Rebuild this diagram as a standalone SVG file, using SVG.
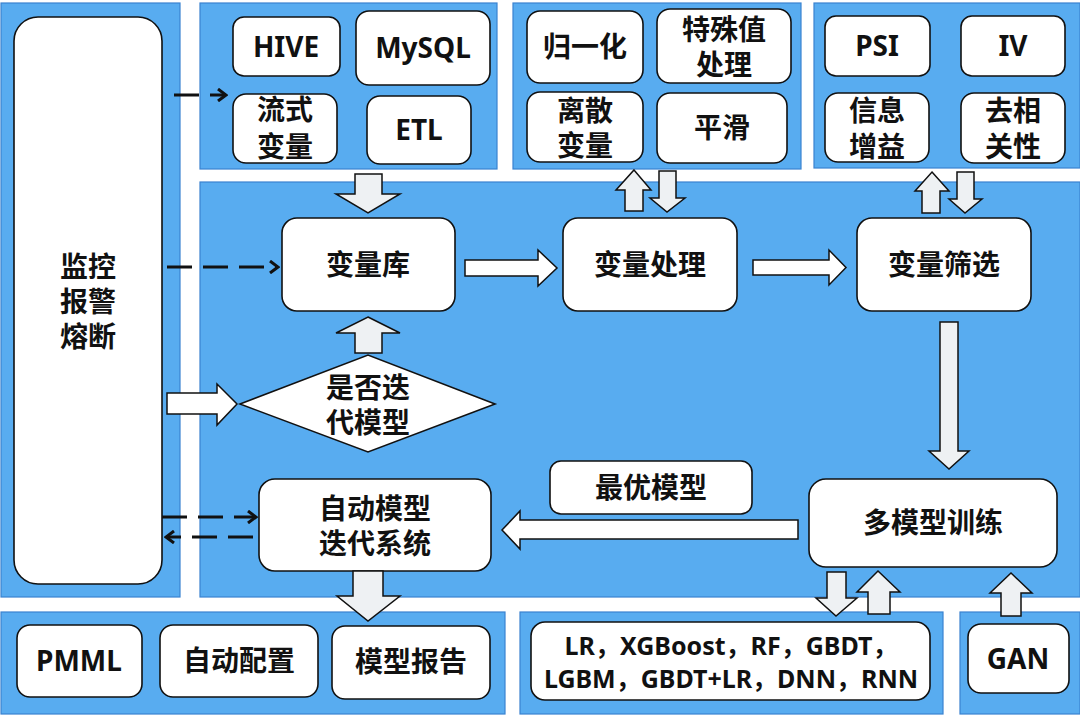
<svg xmlns="http://www.w3.org/2000/svg" width="1080" height="716" viewBox="0 0 1080 716">
<defs>
<style>
.panel{fill:#58acf0;stroke:#3a82d0;stroke-width:1.2}
.box{fill:#fff;stroke:#111;stroke-width:1.6}
.blk{fill:#eef1f3;stroke:#111;stroke-width:1.5;stroke-linejoin:miter}
.blkw{fill:#fff;stroke:#111;stroke-width:1.5}
.t{font-family:"Noto Sans","Noto Sans CJK SC",sans-serif;font-weight:bold;font-size:28px;fill:#111;text-anchor:middle}
.s{font-size:25px}
.dash{stroke:#111;stroke-width:3;fill:none;stroke-dasharray:25 11}
</style>
<marker id="chev" viewBox="0 0 12 14" refX="10" refY="7" markerWidth="12" markerHeight="14" markerUnits="userSpaceOnUse" orient="auto">
<path d="M2,1 L10,7 L2,13" fill="none" stroke="#111" stroke-width="3"/>
</marker>
</defs>
<rect width="1080" height="716" fill="#fff"/>
<g id="panels">
<rect class="panel" x="1" y="3" width="179" height="594"/>
<rect class="panel" x="200" y="3" width="297" height="166"/>
<rect class="panel" x="513" y="3" width="288" height="166"/>
<rect class="panel" x="814" y="3" width="266" height="165"/>
<rect class="panel" x="200" y="182" width="880" height="415"/>
<rect class="panel" x="1" y="612" width="504" height="102"/>
<rect class="panel" x="520" y="612" width="423" height="102"/>
<rect class="panel" x="960" y="612" width="120" height="102"/>
</g>
<g id="monitor"><rect class="box" x="14" y="17" width="148" height="567" rx="24"/>
<text class="t" x="88" y="277">监控</text><text class="t" x="88" y="312">报警</text><text class="t" x="88" y="347">熔断</text></g>
<g id="hive"><rect class="box" x="233" y="17" width="107" height="59" rx="11"/><text class="t" x="286" y="57">HIVE</text></g>
<g id="mysql"><rect class="box" x="356" y="11" width="134" height="74" rx="13"/><text class="t" x="423" y="58">MySQL</text></g>
<g id="stream"><rect class="box" x="233" y="94" width="104" height="69" rx="13"/><text class="t" x="285" y="120">流式</text><text class="t" x="285" y="157">变量</text></g>
<g id="etl"><rect class="box" x="367" y="96" width="104" height="68" rx="13"/><text class="t" x="419" y="140">ETL</text></g>
<g id="norm"><rect class="box" x="527" y="11" width="116" height="72" rx="13"/><text class="t" x="585" y="57">归一化</text></g>
<g id="special"><rect class="box" x="657" y="9" width="134" height="74" rx="13"/><text class="t" x="724" y="40">特殊值</text><text class="t" x="724" y="75">处理</text></g>
<g id="discrete"><rect class="box" x="527" y="92" width="116" height="70" rx="13"/><text class="t" x="585" y="121">离散</text><text class="t" x="585" y="156">变量</text></g>
<g id="smooth"><rect class="box" x="657" y="93" width="130" height="70" rx="13"/><text class="t" x="722" y="138">平滑</text></g>
<g id="psi"><rect class="box" x="825" y="16" width="105" height="60" rx="11"/><text class="t" x="877" y="56">PSI</text></g>
<g id="iv"><rect class="box" x="961" y="16" width="104" height="60" rx="11"/><text class="t" x="1013" y="56">IV</text></g>
<g id="infogain"><rect class="box" x="825" y="93" width="104" height="69" rx="13"/><text class="t" x="877" y="121">信息</text><text class="t" x="877" y="157">增益</text></g>
<g id="decorr"><rect class="box" x="961" y="93" width="104" height="70" rx="13"/><text class="t" x="1013" y="121">去相</text><text class="t" x="1013" y="157">关性</text></g>
<g id="varlib"><rect class="box" x="282" y="218" width="173" height="93" rx="15"/><text class="t" x="368" y="275">变量库</text></g>
<g id="varproc"><rect class="box" x="563" y="218" width="174" height="93" rx="15"/><text class="t" x="650" y="275">变量处理</text></g>
<g id="varsel"><rect class="box" x="857" y="218" width="174" height="93" rx="15"/><text class="t" x="944" y="275">变量筛选</text></g>
<g id="decision"><polygon points="240,404 368,355 495,404 368,452" fill="#fff" stroke="#111" stroke-width="1.6"/>
<text class="t" x="368" y="398">是否迭</text><text class="t" x="368" y="433">代模型</text></g>
<g id="autosys"><rect class="box" x="259" y="479" width="232" height="92" rx="16"/><text class="t" x="375" y="519">自动模型</text><text class="t" x="375" y="554">迭代系统</text></g>
<g id="best"><rect class="box" x="550" y="461" width="202" height="53" rx="11"/><text class="t" x="651" y="498">最优模型</text></g>
<g id="multi"><rect class="box" x="809" y="479" width="248" height="88" rx="17"/><text class="t" x="933" y="533">多模型训练</text></g>
<g id="pmml"><rect class="box" x="17" y="625" width="125" height="72" rx="13"/><text class="t" x="79" y="671">PMML</text></g>
<g id="autoconf"><rect class="box" x="160" y="625" width="158" height="72" rx="13"/><text class="t" x="239" y="671">自动配置</text></g>
<g id="report"><rect class="box" x="332" y="626" width="158" height="73" rx="13"/><text class="t" x="411" y="672">模型报告</text></g>
<g id="models"><rect class="box" x="531" y="622" width="399" height="78" rx="14"/>
<text class="t s" x="731" y="655">LR，XGBoost，RF，GBDT，</text><text class="t s" x="731" y="688">LGBM，GBDT+LR，DNN，RNN</text></g>
<g id="gan"><rect class="box" x="968" y="624" width="101" height="69" rx="13"/><text class="t" x="1018" y="669">GAN</text></g>
<g id="connectors">
<path class="blk" d="M355,174 H382 V194 H400 L368,213 L336,194 H355 Z"/>
<path class="blk" d="M368,317 L400,333 H382 V353 H355 V333 H336 Z"/>
<path class="blk" d="M634,170 L651,190 H643 V211 H625 V190 H616 Z"/>
<path class="blk" d="M659,171 H676 V198 H685 L667,212 L650,198 H659 Z"/>
<path class="blk" d="M932,172 L949,191 H940 V213 H922 V191 H915 Z"/>
<path class="blk" d="M957,172 H974 V199 H982 L965,213 L949,199 H957 Z"/>
<path class="blk" d="M940,322 H958 V451 H969 L949,469 L929,451 H940 Z"/>
<path class="blk" d="M827,572 H846 V598 H857 L836,616 L816,598 H827 Z"/>
<path class="blk" d="M878,571 L900,592 H890 V614 H868 V592 H857 Z"/>
<path class="blk" d="M1011,573 L1032,593 H1021 V616 H1001 V593 H990 Z"/>
<path class="blk" d="M353,571 H383 V596 H400 L368,621 L337,596 H353 Z"/>
<path class="blkw" d="M465,260 H538 V250 L557,268 L538,286 V276 H465 Z"/>
<path class="blkw" d="M753,260 H829 V250 L846,267.5 L829,285 V275 H753 Z"/>
<path class="blkw" d="M798,520 H520 V511 L502,530 L520,549 V539 H798 Z"/>
<path class="blkw" d="M167,393 H217 V384 L237,404 L217,425 V414 H167 Z"/>
<line class="dash" x1="174" y1="95" x2="226" y2="95" marker-end="url(#chev)"/>
<line class="dash" x1="167" y1="267" x2="278" y2="267" marker-end="url(#chev)"/>
<line class="dash" x1="162" y1="517" x2="256" y2="517" marker-end="url(#chev)"/>
<line class="dash" x1="253" y1="537" x2="166" y2="537" marker-end="url(#chev)"/>
</g>
</svg>
